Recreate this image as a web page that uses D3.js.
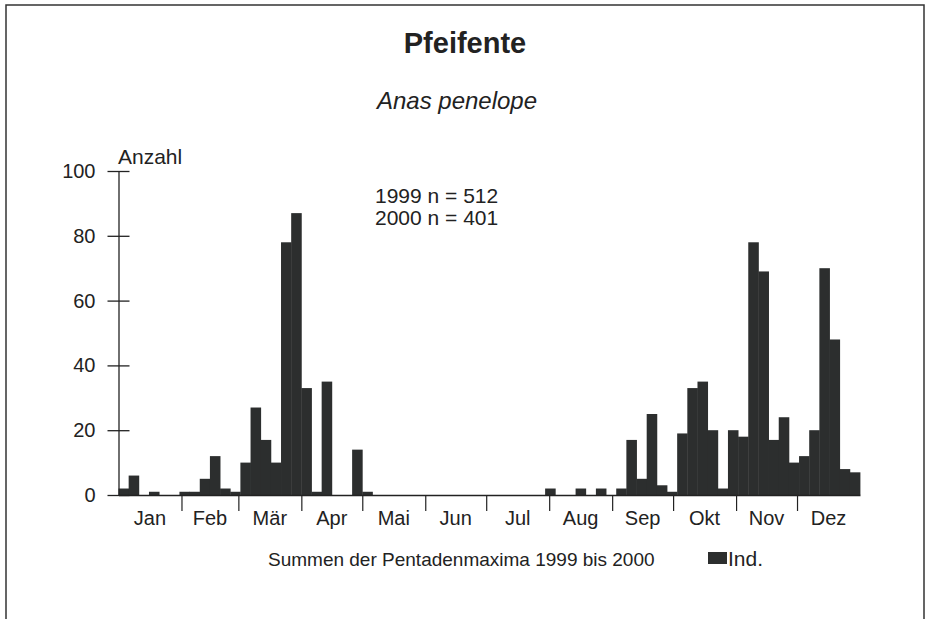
<!DOCTYPE html>
<html>
<head>
<meta charset="utf-8">
<script src="https://cdn.jsdelivr.net/npm/d3@7"></script>
<style>
  html, body { margin: 0; padding: 0; background: #fff; }
  svg { display: block; }
  text { font-family: "Liberation Sans", Arial, Helvetica, sans-serif; fill: #222; }
</style>
</head>
<body>
<svg id="chart" width="929" height="619"></svg>
<script>
// ---- data ----
const title = "Pfeifente";
const subtitle = "Anas penelope";
const yLabel = "Anzahl";
const nLines = ["1999 n = 512", "2000 n = 401"];
const footer = "Summen der Pentadenmaxima 1999 bis 2000";
const legendLabel = "Ind.";
const months = ["Jan", "Feb", "Mär", "Apr", "Mai", "Jun", "Jul", "Aug", "Sep", "Okt", "Nov", "Dez"];
const monthStartDays = [0, 31, 59, 90, 120, 151, 181, 212, 243, 273, 304, 334, 365];
const yTicks = [0, 20, 40, 60, 80, 100];
// 73 pentads (5-day periods), sums of pentad maxima
const pentadValues = [
  2, 6, 0, 1, 0, 0, 1, 1, 5, 12, 2, 1, 10, 27, 17, 10, 78, 87, 33, 1,
  35, 0, 0, 14, 1, 0, 0, 0, 0, 0, 0, 0, 0, 0, 0, 0, 0, 0, 0, 0,
  0, 0, 2, 0, 0, 2, 0, 2, 0, 2, 17, 5, 25, 3, 1, 19, 33, 35, 20, 2,
  20, 18, 78, 69, 17, 24, 10, 12, 20, 70, 48, 8, 7
];
const pentadDays = 5;

// ---- drawing ----
const svg = d3.select("#chart");
const barColor = "#2c2e2e";
const inkColor = "#222";

const x = d3.scaleLinear().domain([0, 365]).range([118.5, 860]);
const y = d3.scaleLinear().domain([0, 100]).range([495, 171]);

// frame
svg.append("path")
  .attr("d", "M6,619 L6,5 L924,5 L924,619")
  .attr("fill", "none").attr("stroke", "#333").attr("stroke-width", 1.5);

// titles
svg.append("text").attr("x", 465).attr("y", 53).attr("text-anchor", "middle")
  .attr("font-size", 29).attr("font-weight", "bold").text(title);
svg.append("text").attr("x", 457).attr("y", 109).attr("text-anchor", "middle")
  .attr("font-size", 24).attr("font-style", "italic").text(subtitle);

// bars
svg.append("g").selectAll("rect").data(pentadValues).join("rect")
  .attr("x", (d, i) => x(i * pentadDays))
  .attr("width", (d, i) => x((i + 1) * pentadDays) - x(i * pentadDays) + 0.4)
  .attr("y", d => y(d))
  .attr("height", d => y(0) - y(d))
  .attr("fill", barColor);

// y axis
const yAxis = svg.append("g").attr("transform", `translate(${x(0)},0)`)
  .call(d3.axisLeft(y).tickValues(yTicks).tickSize(11).tickPadding(12).tickSizeOuter(0));
yAxis.select(".domain").attr("stroke", inkColor).attr("stroke-width", 1.3);
yAxis.selectAll(".tick line").attr("x1", -11).attr("x2", 11).attr("stroke", inkColor).attr("stroke-width", 1.3);
yAxis.selectAll(".tick text").attr("font-size", 20).attr("fill", inkColor)
  .attr("font-family", "'Liberation Sans', Arial, sans-serif");

// x axis (month boundaries)
const xAxis = svg.append("g").attr("transform", `translate(0,${y(0)})`)
  .call(d3.axisBottom(x).tickValues(monthStartDays.slice(1, -1)).tickFormat("").tickSize(16).tickSizeOuter(0));
xAxis.select(".domain").attr("stroke", inkColor).attr("stroke-width", 1.3);
xAxis.selectAll(".tick line").attr("stroke", inkColor).attr("stroke-width", 1.2);

// month labels
svg.append("g").selectAll("text").data(months).join("text")
  .attr("x", (d, i) => (x(monthStartDays[i]) + x(monthStartDays[i + 1])) / 2)
  .attr("y", 525)
  .attr("text-anchor", "middle")
  .attr("font-size", 20)
  .text(d => d);

// y label
svg.append("text").attr("x", 118).attr("y", 164).attr("font-size", 21).text(yLabel);

// n annotations
svg.append("g").selectAll("text").data(nLines).join("text")
  .attr("x", 375).attr("y", (d, i) => 203 + i * 22)
  .attr("font-size", 21).text(d => d);

// footer
svg.append("text").attr("x", 268).attr("y", 566).attr("font-size", 19).text(footer);

// legend
svg.append("rect").attr("x", 708).attr("y", 552).attr("width", 19).attr("height", 12).attr("fill", barColor);
svg.append("text").attr("x", 728).attr("y", 566).attr("font-size", 21).text(legendLabel);
</script>
</body>
</html>
